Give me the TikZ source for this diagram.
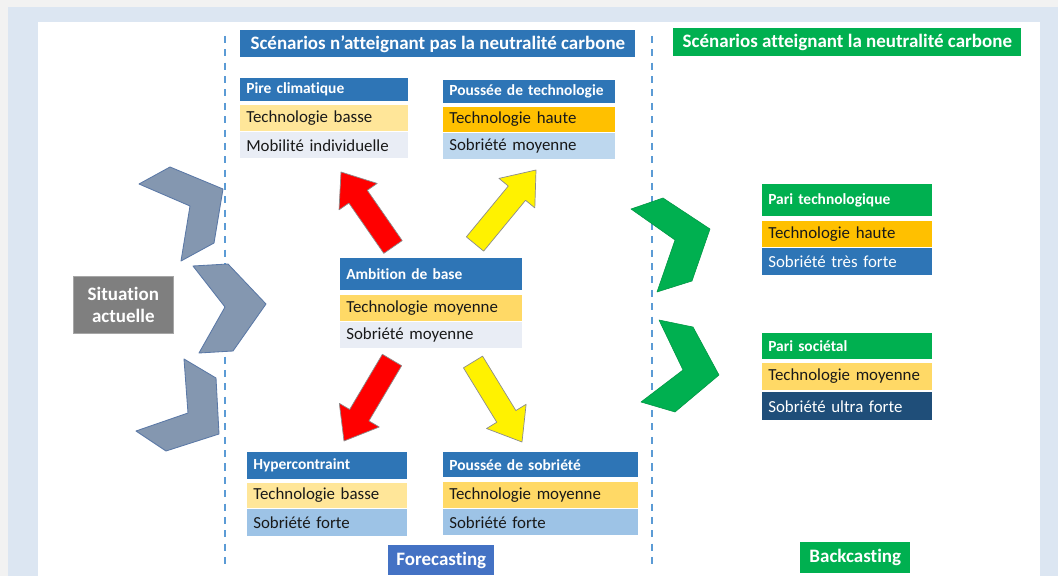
\documentclass[tikz,border=0pt]{standalone}
\usepackage{fontspec}
\setmainfont{Carlito}[Ligatures=CommonOff]
\usepackage{tikz}
\usetikzlibrary{positioning, calc}
\definecolor{bgblue}{HTML}{DCE6F2}
\definecolor{hblue}{HTML}{2E75B6}
\definecolor{hgreen}{HTML}{00B050}
\definecolor{fblue}{HTML}{4472C4}
\definecolor{dashblue}{HTML}{5B9BD5}
\definecolor{ylight}{HTML}{FFE699}
\definecolor{ymid}{HTML}{FFD966}
\definecolor{yorange}{HTML}{FFC000}
\definecolor{lavender}{HTML}{E9EDF5}
\definecolor{bluepale}{HTML}{BDD7EE}
\definecolor{bluemid}{HTML}{9DC3E6}
\definecolor{bluedark}{HTML}{1F4E79}
\definecolor{greybox}{HTML}{7F7F7F}
\definecolor{chevgrey}{HTML}{8497B0}
\definecolor{chevedge}{HTML}{5A78A6}
\tikzstyle{head} = [rectangle, fill=hblue, text=white, font=\fontsize{11}{13}\selectfont\bfseries, inner xsep=0.15cm, inner ysep=0pt, align=left]
\tikzstyle{cell} = [rectangle, text=black!90, font=\fontsize{12}{14}\selectfont, inner xsep=0.15cm, inner ysep=0pt, align=left]
\tikzstyle{title} = [rectangle, text=white, font=\fontsize{13.5}{16}\selectfont\bfseries, inner sep=0pt, align=center]
\tikzstyle{chev} = [fill=chevgrey, draw=chevedge, line width=0.6pt, line join=round]
\tikzstyle{chevgreen} = [fill=hgreen, draw=hgreen!85!black, line width=0.4pt, line join=round]
\tikzstyle{divider} = [dashblue, line width=1.8pt, dash pattern=on 5pt off 4.5pt]
\tikzset{wide/.style={minimum width=#1, text width=#1-0.3cm}}
% fat arrow from #2 to #3, filled with #1
\newcommand{\fatarrow}[3]{
  \coordinate (hb) at ($(#3)!0.75cm!(#2)$);
  \draw[fill=#1, draw=black!45, line width=0.5pt, line join=round]
    ($(#2)!0.28cm!90:(#3)$) -- ($(hb)!0.28cm!90:(#3)$) -- ($(hb)!0.58cm!90:(#3)$) -- (#3)
    -- ($(hb)!0.58cm!-90:(#3)$) -- ($(hb)!0.28cm!-90:(#3)$) -- ($(#2)!0.28cm!-90:(#3)$) -- cycle;
}

\begin{document}
\begin{tikzpicture}[x=0.025cm, y=-0.025cm]
        \useasboundingbox (0,0) rectangle (1058,576);
        % frame
        \fill[black!5] (0,0) rectangle (1058,576);
        \fill[bgblue] (8,7) rectangle (1058,576);
        \fill[white] (38,22) rectangle (1040,576);
        \draw[divider] (225,36) -- (225,566);
        \draw[divider] (652,36) -- (652,566);
        % titles
        \node (fwd) [title, fill=hblue, minimum width=9.875cm, minimum height=0.675cm, anchor=north west] at (240,30) {Scénarios n’atteignant pas la neutralité carbone};
        \node (bwd) [title, fill=hgreen, minimum width=8.7cm, minimum height=0.7cm, anchor=north west] at (673,28) {Scénarios atteignant la neutralité carbone};
        \node (fc) [title, fill=fblue, minimum width=2.65cm, minimum height=0.75cm, anchor=north west] at (388,545) {Forecasting};
        \node (bc) [title, fill=hgreen, minimum width=2.75cm, minimum height=0.775cm, anchor=north west] at (800,542) {Backcasting};
        \node (sit) [title, fill=greybox, draw=black!35, minimum width=2.5cm, minimum height=1.425cm, anchor=north west] at (73,276) {Situation\\actuelle};
        % Pire climatique
        \node (pch) [head, wide=4.2cm, minimum height=0.575cm, anchor=north west] at (240,78) {Pire climatique};
        \node (pc1) [cell, fill=ylight, wide=4.2cm, minimum height=0.65cm, below=0.075cm of pch] {Technologie basse};
        \node (pc2) [cell, fill=lavender, wide=4.2cm, minimum height=0.65cm, below=0.025cm of pc1] {Mobilité individuelle};
        % Poussee de technologie
        \node (pth) [head, wide=4.3cm, minimum height=0.575cm, anchor=north west] at (443,80) {Poussée de technologie};
        \node (pt1) [cell, fill=yorange, wide=4.3cm, minimum height=0.625cm, below=0.075cm of pth] {Technologie haute};
        \node (pt2) [cell, fill=bluepale, wide=4.3cm, minimum height=0.65cm, below=0.025cm of pt1] {Sobriété moyenne};
        % Ambition de base
        \node (abh) [head, wide=4.55cm, minimum height=0.8cm, anchor=north west] at (340,258) {Ambition de base};
        \node (ab1) [cell, fill=ymid, wide=4.55cm, minimum height=0.65cm, below=0.1cm of abh] {Technologie moyenne};
        \node (ab2) [cell, fill=lavender, wide=4.55cm, minimum height=0.65cm, below=0.025cm of ab1] {Sobriété moyenne};
        % Hypercontraint
        \node (hch) [head, wide=4.0cm, minimum height=0.675cm, anchor=north west] at (247,452) {Hypercontraint};
        \node (hc1) [cell, fill=ylight, wide=4.0cm, minimum height=0.625cm, below=0.075cm of hch] {Technologie basse};
        \node (hc2) [cell, fill=bluemid, wide=4.0cm, minimum height=0.675cm, below=0.025cm of hc1] {Sobriété forte};
        % Poussee de sobriete
        \node (psh) [head, wide=4.875cm, minimum height=0.625cm, anchor=north west] at (443,452) {Poussée de sobriété};
        \node (ps1) [cell, fill=ymid, wide=4.875cm, minimum height=0.65cm, below=0.1cm of psh] {Technologie moyenne};
        \node (ps2) [cell, fill=bluemid, wide=4.875cm, minimum height=0.65cm, below=0.025cm of ps1] {Sobriété forte};
        % Pari technologique
        \node (ptech) [head, fill=hgreen, wide=4.25cm, minimum height=0.8cm, anchor=north west] at (762,184) {Pari technologique};
        \node (ptec1) [cell, fill=yorange, wide=4.25cm, minimum height=0.65cm, below=0.1cm of ptech] {Technologie haute};
        \node (ptec2) [cell, fill=hblue, text=white, wide=4.25cm, minimum height=0.675cm, below=0.025cm of ptec1] {Sobriété très forte};
        % Pari societal
        \node (psoch) [head, fill=hgreen, wide=4.25cm, minimum height=0.65cm, anchor=north west] at (762,333) {Pari sociétal};
        \node (psoc1) [cell, fill=ymid, wide=4.25cm, minimum height=0.675cm, below=0.075cm of psoch] {Technologie moyenne};
        \node (psoc2) [cell, fill=bluedark, text=white, wide=4.25cm, minimum height=0.7cm, below=0.05cm of psoc1] {Sobriété ultra forte};
        % chevrons from the current situation
        \draw[chev] (139,184) -- (170,167) -- (223,189) -- (214,243) -- (181,261) -- (190,206) -- cycle;
        \draw[chev] (193,266) -- (228,264) -- (266,304) -- (233,351) -- (199,353) -- (225,307) -- cycle;
        \draw[chev] (184,359) -- (216,378) -- (219,434) -- (166,451) -- (136,431) -- (188,413) -- cycle;
        \draw[chevgreen] (631,209) -- (663,198) -- (710,229) -- (692,281) -- (657,292) -- (675,240) -- cycle;
        \draw[chevgreen] (659,320) -- (693,327) -- (719,375) -- (675,412) -- (641,402) -- (683,370) -- cycle;
        % arrows out of the base scenario
        \coordinate (aUL) at (393,247); \coordinate (tUL) at (341,172);
        \coordinate (aUR) at (475,244); \coordinate (tUR) at (536,170);
        \coordinate (aDL) at (392,360); \coordinate (tDL) at (344,441);
        \coordinate (aDR) at (473,362); \coordinate (tDR) at (522,442);
        \fatarrow{red}{aUL}{tUL}
        \fatarrow{yellow}{aUR}{tUR}
        \fatarrow{red}{aDL}{tDL}
        \fatarrow{yellow}{aDR}{tDR}
\end{tikzpicture}
\end{document}
